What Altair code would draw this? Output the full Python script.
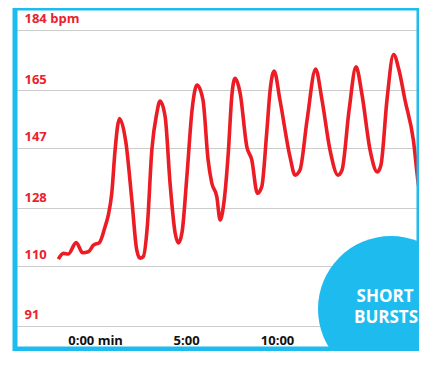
import altair as alt
import pandas as pd

# Heart-rate trace (minutes, bpm)
minutes = [-2.02, -1.74, -1.47, -1.04, -0.68, -0.37, -0.09, 0.24, 0.55, 0.73, 0.92, 1.10, 1.34,
           1.70, 2.02, 2.29, 2.47, 2.65, 2.87, 3.12, 3.39, 3.57, 3.85, 4.12, 4.40, 4.58, 4.78,
           5.05, 5.33, 5.60, 5.93, 6.21, 6.41, 6.69, 6.87, 7.05, 7.32, 7.51, 7.69, 7.97, 8.34,
           8.61, 8.92, 9.16, 9.43, 9.62, 9.84, 10.16, 10.71, 10.99, 11.26, 11.65, 12.12, 12.47,
           12.91, 13.35, 13.57, 13.96, 14.34, 14.67, 15.11, 15.51, 15.71, 16.04, 16.40, 16.70,
           17.03, 17.49, 17.76, 18.04, 18.30]
bpm = [112.0, 113.8, 113.6, 117.2, 114.0, 114.3, 116.4, 117.2, 122.2, 125.9, 132.8, 146.3, 156.2,
       148.4, 130.6, 114.9, 112.3, 112.8, 122.2, 146.3, 157.8, 161.7, 156.8, 135.9, 120.2, 117.1, 120.5,
       138.4, 158.9, 166.7, 162.0, 143.2, 136.0, 131.6, 124.3, 128.5, 145.4, 163.0, 168.8, 164.2, 147.3,
       143.2, 132.7, 134.8, 151.6, 165.1, 171.1, 162.0, 144.2, 138.4, 140.0, 155.7, 171.7, 162.0,
       146.3, 138.4, 140.0, 158.9, 172.4, 163.6, 146.3, 139.4, 141.6, 162.0, 176.3, 171.4,
       162.0, 149.4, 135.8, 127.4, 124.9]

y_ticks = [91, 110, 128, 147, 165, 184]
x_ticks = [0, 5, 10]
badge_lines = ["SHORT", "BURSTS"]

RED = "#ec1c24"
BLUE = "#1ebbee"
W, H = 404, 341

df = pd.DataFrame({"t": minutes, "bpm": bpm})

line = alt.Chart(df).mark_line(color=RED, strokeWidth=3.6, interpolate="monotone", clip=True).encode(
    x=alt.X("t:Q", scale=alt.Scale(domain=[-4.4, 17.8], nice=False, zero=False),
            axis=alt.Axis(values=x_ticks, grid=False, domain=False, ticks=False, tickSize=0,
                          labelExpr="datum.value == 0 ? '0:00 min' : datum.value + ':00'",
                          labelFont="Open Sans", labelFontWeight="bold", labelFontSize=13,
                          labelColor="#111111", labelPadding=-5, labelBaseline="alphabetic",
                          title=None)),
    y=alt.Y("bpm:Q", scale=alt.Scale(domain=[83.77, 190.9], nice=False, zero=False),
            axis=alt.Axis(values=y_ticks, grid=True, gridColor="#cccccc", gridWidth=1,
                          domain=False, ticks=False, tickSize=0,
                          labelExpr="datum.value == 184 ? '184 bpm' : datum.label",
                          labelFont="Open Sans", labelFontWeight="bold", labelFontSize=13,
                          labelColor="#e8232d", labelAlign="left", labelPadding=-9,
                          labelBaseline="alphabetic", labelOffset=-7, title=None)),
)

one = pd.DataFrame({"k": [0]})
frame = alt.Chart(one).mark_rect(fillOpacity=0, stroke=BLUE, strokeWidth=5).encode(
    x=alt.value(0), x2=alt.value(W), y=alt.value(0), y2=alt.value(H)
)

badge = alt.Chart(one).mark_circle(color=BLUE, opacity=1, size=21316).encode(
    x=alt.value(376), y=alt.value(301)
)

text_style = dict(color="white", font="Open Sans", fontWeight="bold", fontSize=17,
                  baseline="middle", align="center")
t1 = alt.Chart(pd.DataFrame({"label": [badge_lines[0]]})).mark_text(**text_style).encode(
    x=alt.value(370), y=alt.value(289), text="label:N")
t2 = alt.Chart(pd.DataFrame({"label": [badge_lines[1]]})).mark_text(**text_style).encode(
    x=alt.value(371), y=alt.value(310), text="label:N")

chart = alt.layer(line, frame, badge, t1, t2).properties(
    width=W, height=H,
    autosize=alt.AutoSizeParams(type="none"),
    padding={"left": 7, "top": 0, "right": 0, "bottom": 2},
).configure_view(stroke=None).configure(background="white")

chart.save("out.html", embed_options={"renderer": "svg", "actions": False})
